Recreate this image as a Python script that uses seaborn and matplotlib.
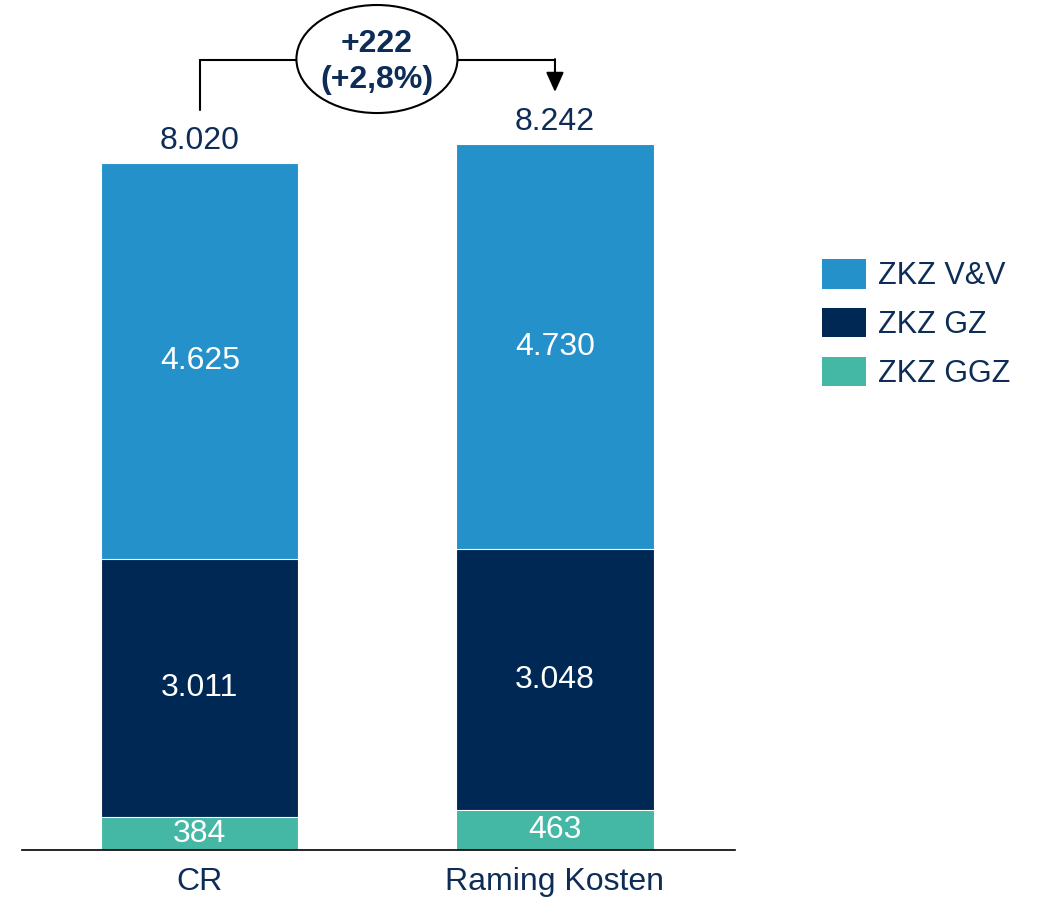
import numpy as np
import pandas as pd
import matplotlib
matplotlib.use("Agg")
import matplotlib.pyplot as plt
import seaborn as sns
from matplotlib.patches import Patch, Ellipse

categories = ["CR", "Raming Kosten"]
zkz_ggz = [384, 463]
zkz_gz = [3011, 3048]
zkz_vv = [4625, 4730]
totals = [8020, 8242]
series_labels = ["ZKZ V&V", "ZKZ GZ", "ZKZ GGZ"]
delta_text = "+222\n(+2,8%)"

def fmt(v):
    return f"{v:,}".replace(",", ".")

c_vv = "#2491CB"
c_gz = "#002855"
c_ggz = "#44B8A4"
navy = "#0D2D57"

sns.set_theme(style="white")
plt.rcParams["font.family"] = ["Liberation Sans", "DejaVu Sans"]

df = pd.DataFrame({"cat": categories, "ggz": zkz_ggz, "gz": zkz_gz, "vv": zkz_vv})
df["s2"] = df["ggz"] + df["gz"]
df["s3"] = df["s2"] + df["vv"]

fig = plt.figure(figsize=(10.38, 8.98), dpi=100)
ax = fig.add_axes([22/1038, 48/898, 713/1038, 850/898])

w = 0.555
sns.barplot(data=df, x="cat", y="s3", color=c_vv, width=w, ax=ax, saturation=1, edgecolor="white", linewidth=0.8)
sns.barplot(data=df, x="cat", y="s2", color=c_gz, width=w, ax=ax, saturation=1, edgecolor="white", linewidth=0.8)
sns.barplot(data=df, x="cat", y="ggz", color=c_ggz, width=w, ax=ax, saturation=1, edgecolor="white", linewidth=0.8)

ymax = 9923
ax.set_xlim(-0.501, 1.507)
ax.set_ylim(0, ymax)

fs = 23
for i in range(len(categories)):
    ax.text(i, zkz_ggz[i] / 2, fmt(zkz_ggz[i]), ha="center", va="center", color="white", fontsize=fs)
    ax.text(i, zkz_ggz[i] + zkz_gz[i] / 2, fmt(zkz_gz[i]), ha="center", va="center", color="white", fontsize=fs)
    ax.text(i, zkz_ggz[i] + zkz_vv[i] / 2 + zkz_gz[i], fmt(zkz_vv[i]), ha="center", va="center", color="white", fontsize=fs)
    ax.text(i, totals[i] + 80, fmt(totals[i]), ha="center", va="bottom", color=navy, fontsize=fs)

# bracket
yb = 9223
ex, ew, eh = 0.4986, 0.4535, 1261
ey = 9234
ax.plot([0, 0], [8639, yb], color="black", lw=1.5, clip_on=False)
ax.plot([0, ex - ew / 2], [yb, yb], color="black", lw=1.5, clip_on=False)
ax.plot([ex + ew / 2, 1.0], [yb, yb], color="black", lw=1.5, clip_on=False)
ax.annotate("", xy=(1.0, 8849), xytext=(1.0, yb + 10),
            arrowprops=dict(arrowstyle="-|>,head_length=0.6,head_width=0.27", color="black", lw=1.5,
                            mutation_scale=20, shrinkA=0, shrinkB=0), annotation_clip=False)
ell = Ellipse((ex, ey), ew, eh, facecolor="white", edgecolor="black", lw=1.5, clip_on=False, zorder=5)
ax.add_patch(ell)
ax.text(ex, 9195, delta_text, ha="center", va="center", color=navy, fontsize=23, fontweight="bold",
        linespacing=1.25, zorder=6)

sns.despine(ax=ax, left=True, top=True, right=True)
ax.spines["bottom"].set_color("black")
ax.spines["bottom"].set_linewidth(1.2)
ax.set_yticks([])
ax.set_xlabel("")
ax.set_ylabel("")
ax.tick_params(axis="x", length=0, labelsize=fs, labelcolor=navy, pad=12)

handles = [Patch(facecolor=c, edgecolor="none") for c in [c_vv, c_gz, c_ggz]]
fig.legend(handles, series_labels, loc="upper left", bbox_to_anchor=(810/1038, 1 - 247/898),
           frameon=False, fontsize=22, labelcolor=navy, handlelength=1.44, handleheight=1.1,
           labelspacing=0.55, handletextpad=0.4, borderaxespad=0)

fig.savefig("out.png", dpi=100, facecolor="white")
